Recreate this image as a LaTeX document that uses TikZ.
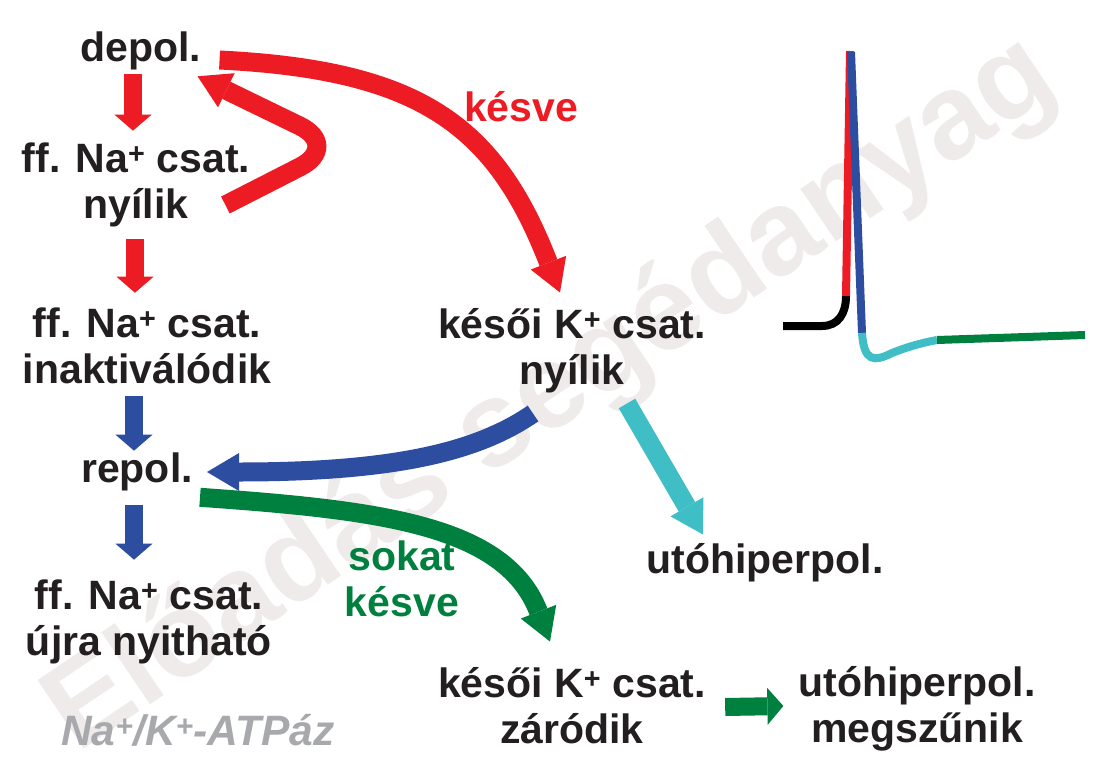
\documentclass[tikz,border=0pt]{standalone}
\usepackage{fontspec}
\setmainfont{Liberation Sans}
\usetikzlibrary{arrows.meta,calc}
\definecolor{cred}{RGB}{237,28,36}
\definecolor{cblue}{RGB}{45,78,160}
\definecolor{cgreen}{RGB}{0,128,62}
\definecolor{ccyan}{RGB}{64,190,198}
\definecolor{cgray}{RGB}{167,169,172}
\definecolor{wmcol}{RGB}{239,235,235}
\definecolor{ctext}{RGB}{35,31,32}
\tikzset{
  txt/.style={inner sep=0pt, align=center, text=ctext, font=\fontsize{41}{46}\selectfont\bfseries},
  vA/.style={line width=18pt, -{Triangle[length=16pt,width=37pt,line width=0pt]}},
  cA/.style={line width=19pt, -{Triangle[length=32pt,width=38pt,line width=0pt]}},
  trace/.style={line width=8pt}
}
\begin{document}
\begin{tikzpicture}[x=1pt,y=-1pt]
\fill[white] (0,0) rectangle (1102,778);
\useasboundingbox (0,0) rectangle (1102,778);
% watermark
\node[rotate=34, inner sep=0pt, text=wmcol, font=\fontsize{120}{120}\selectfont\bfseries] (wm) at (552,396) {Előadás segédanyag};
% nodes
\node[txt] (depol) at (141,51) {depol.};
\node[txt] (ffny) at (136,185) {ff. Na\textsuperscript{+} csat.\\nyílik};
\node[txt] (ffin) at (147,346) {ff. Na\textsuperscript{+} csat.\\inaktiválódik};
\node[txt] (repol) at (137,472) {repol.};
\node[txt] (ffuj) at (149,622) {ff. Na\textsuperscript{+} csat.\\újra nyitható};
\node[txt] (kny) at (572,351) {késői K\textsuperscript{+} csat.\\nyílik};
\node[txt] (uto) at (765,563) {utóhiperpol.};
\node[txt] (kzar) at (572,706) {késői K\textsuperscript{+} csat.\\záródik};
\node[txt] (umeg) at (917,709) {utóhiperpol.\\megszűnik};
\node[txt, text=cred] (kesve) at (521,107) {késve};
\node[txt, text=cgreen] (sokat) at (402,579) {sokat\\késve};
\node[txt, text=cgray, font=\fontsize{42.5}{46}\selectfont\bfseries\itshape] (atp) at (198,730) {Na\textsuperscript{+}/K\textsuperscript{+}-ATPáz};
% vertical arrows
\draw[vA, cred] ($(depol.south)+(-8,4)$) -- ($(ffny.north)+(-3,-12)$);
\draw[vA, cred] ($(ffny.south)+(-1,12)$) -- ($(ffin.north)+(-12,-15)$);
\draw[vA, cblue] ($(ffin.south)+(-13,12)$) -- ($(repol.north)+(-3,-2)$);
\draw[vA, cblue] ($(repol.south)+(-3,14)$) -- ($(ffuj.north)+(-15,-20)$);
% curved arrows
\draw[cA, cred] ($(depol.east)+(18,9)$) .. controls (420,70) and (495,125) .. ($(kny.north)+(-12,-16)$);
\draw[cA, cred, rounded corners=46pt] ($(ffny.east)+(-25,20)$) -- (341,146) -- ($(depol.south east)+(-4,6)$);
\draw[cA, cblue] ($(kny.south)+(-39,20)$) .. controls (480,450) and (400,472) .. ($(repol.east)+(14,0)$);
\draw[cA, cgreen] ($(repol.south east)+(7,6)$) .. controls (380,510) and (505,525) .. ($(kzar.north)+(-22,-26)$);
\draw[cA, ccyan] ($(kny.south)+(55,10)$) -- ($(uto.north)+(-62,-9)$);
\draw[vA, cgreen] ($(kzar.east)+(19,1)$) -- ($(umeg.west)+(-15,-3)$);
% action potential trace
\draw[trace, black] (783,326) -- (822,326) .. controls (838,326) and (846,314) .. (846,296);
\draw[trace, cred] (846,296) -- (850,51);
\draw[trace, cblue] (851,52) -- (862,333);
\draw[trace, ccyan] (862,333) .. controls (864,362) and (874,362) .. (892,353) .. controls (907,347) and (921,343) .. (937,340);
\draw[trace, cgreen] (937,340) -- (1085,335);
\end{tikzpicture}
\end{document}
